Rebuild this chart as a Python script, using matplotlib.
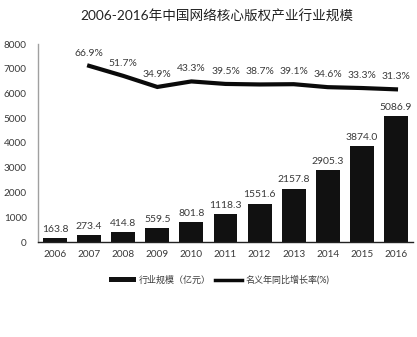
import matplotlib
matplotlib.use("Agg")
import matplotlib.pyplot as plt
from matplotlib.patches import Patch
from matplotlib.lines import Line2D

plt.rcParams['font.family'] = ['Lato', 'Noto Sans CJK SC', 'DejaVu Sans']

years = ['2006', '2007', '2008', '2009', '2010', '2011', '2012', '2013', '2014', '2015', '2016']
scale = [163.8, 273.4, 414.8, 559.5, 801.8, 1118.3, 1551.6, 2157.8, 2905.3, 3874.0, 5086.9]
growth_years = years[1:]
growth = [66.9, 51.7, 34.9, 43.3, 39.5, 38.7, 39.1, 34.6, 33.3, 31.3]

title = '2006-2016年中国网络核心版权产业行业规模'
bar_label = '行业规模（亿元）'
line_label = '名义年同比增长率(%)'

text_color = '#3a3a3a'

fig = plt.figure(figsize=(4.17, 3.37), dpi=100)
ax = fig.add_axes([38 / 417, 1 - 242 / 337, 375 / 417, 198 / 337])

x = list(range(len(years)))
ax.bar(x, scale, width=0.7, color='#111111', zorder=2)
for xi, v in zip(x, scale):
    ax.annotate(f'{v:.1f}', (xi, v), xytext=(0, 3), textcoords='offset points',
                ha='center', va='bottom', fontsize=7.5, color=text_color)

ax.set_xlim(-0.5, len(years) - 0.5)
ax.set_ylim(0, 8000)
ax.set_yticks(range(0, 8001, 1000))
ax.set_xticks(x)
ax.set_xticklabels(years)
ax.tick_params(axis='both', length=0, labelsize=7.2, colors=text_color)
ax.tick_params(axis='y', pad=8)
ax.tick_params(axis='x', pad=6)
for side in ('top', 'right'):
    ax.spines[side].set_visible(False)
ax.spines['left'].set_color('#a0a0a0')
ax.spines['left'].set_linewidth(1.0)
ax.spines['bottom'].set_color('#222222')
ax.spines['bottom'].set_linewidth(1.0)

ax2 = ax.twinx()
gx = [years.index(y) for y in growth_years]
ax2.plot(gx, growth, color='#0a0a0a', linewidth=3.0, solid_joinstyle='miter', zorder=3)
for xi, v in zip(gx, growth):
    ax2.annotate(f'{v:.1f}%', (xi, v), xytext=(0, 6), textcoords='offset points',
                 ha='center', va='bottom', fontsize=7.5, color=text_color)
ax2.set_ylim(-200, 100)
ax2.set_xlim(-0.5, len(years) - 0.5)
ax2.axis('off')

fig.text(217 / 417, 1 - 16 / 337, title, ha='center', va='center',
         fontsize=9.8, color='#222222')

handles = [Patch(facecolor='#111111', edgecolor='none'),
           Line2D([0], [0], color='#0a0a0a', linewidth=2.5)]
fig.legend(handles, [bar_label, line_label], loc='center',
           bbox_to_anchor=(219 / 417, 1 - 280 / 337), ncol=2, frameon=False,
           fontsize=6.5, handlelength=3.0, handleheight=0.6, handletextpad=0.3,
           columnspacing=0.5, labelcolor=text_color)

fig.savefig('out.png', dpi=100, facecolor='white')
